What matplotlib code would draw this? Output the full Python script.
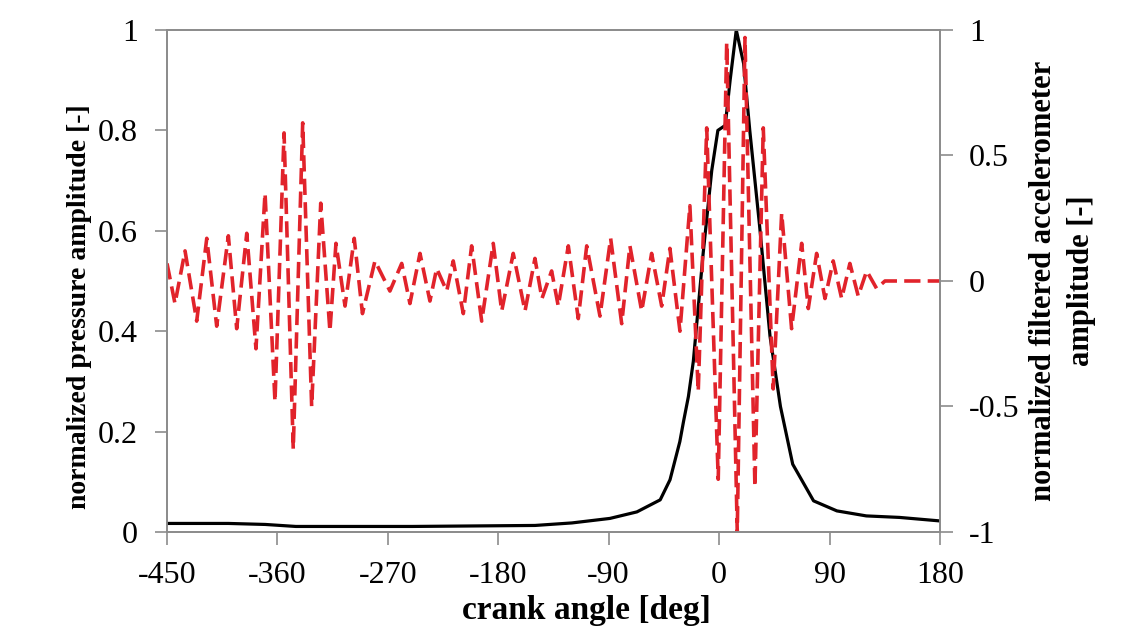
import matplotlib.pyplot as plt
from matplotlib.ticker import FixedLocator, FuncFormatter

plt.rcParams['font.family'] = ['Liberation Serif', 'DejaVu Serif']
plt.rcParams['axes.unicode_minus'] = False

# pressure trace (left axis)
p_angle = [-450, -400, -370, -345, -300, -250, -200, -150, -120, -89, -67, -48, -40,
           -32, -29, -25, -21, -13, -6, -1, 5, 9, 14, 20, 25, 33, 41.5, 50, 60, 77,
           96, 120, 147, 180]
p_val = [0.017, 0.017, 0.015, 0.011, 0.011, 0.011, 0.012, 0.013, 0.018, 0.027, 0.040,
         0.064, 0.104, 0.18, 0.22, 0.27, 0.34, 0.555, 0.72, 0.80, 0.81, 0.90, 1.0,
         0.933, 0.80, 0.61, 0.39, 0.25, 0.135, 0.062, 0.042, 0.032, 0.029, 0.022]

# filtered accelerometer (right axis), peaks and troughs
a_angle = [-450, -443.5, -435.3, -425.8, -417.6, -409.5, -400, -393.2, -385, -377.5,
           -370.1, -362, -354.6, -347.1, -339.4, -332.1, -324.7, -317.2, -312.3, -304.9,
           -297.4, -290.7, -280.5, -268.3, -258.7, -252, -243.8, -235.7, -230.2, -222,
           -216.7, -208.5, -201.7, -193.5, -184.1, -177.2, -167.8, -158.2, -150.1, -144.4,
           -136.5, -131.1, -122.9, -114.8, -107.9, -97.1, -88.4, -79.4, -72.7, -63.1,
           -55, -46.8, -40.1, -31.9, -23.8, -17, -10.1, -0.7, 6.2, 14.8,
           21.1, 29.2, 36, 44.1, 51, 59.1, 67.3, 72.7, 79.5, 86.3,
           93, 99.9, 106.6, 113.4, 120.3, 128.4, 135.2, 180]
a_val = [0.07, -0.09, 0.12, -0.16, 0.17, -0.18, 0.18, -0.19, 0.19, -0.27,
         0.35, -0.48, 0.59, -0.67, 0.63, -0.50, 0.31, -0.20, 0.15, -0.10,
         0.17, -0.13, 0.08, -0.04, 0.07, -0.09, 0.11, -0.08, 0.05, -0.04,
         0.08, -0.13, 0.14, -0.16, 0.15, -0.12, 0.11, -0.12, 0.09, -0.07,
         0.04, -0.10, 0.14, -0.15, 0.14, -0.14, 0.17, -0.17, 0.14, -0.12,
         0.11, -0.10, 0.13, -0.20, 0.30, -0.44, 0.61, -0.79, 0.95, -1.0,
         0.97, -0.82, 0.61, -0.43, 0.27, -0.19, 0.15, -0.11, 0.11, -0.07,
         0.08, -0.07, 0.07, -0.06, 0.04, -0.03, 0.0, 0.0]

x_ticks = [-450, -360, -270, -180, -90, 0, 90, 180]
left_ticks = [0, 0.2, 0.4, 0.6, 0.8, 1]
right_ticks = [-1, -0.5, 0, 0.5, 1]

fig = plt.figure(figsize=(11.4, 6.33), dpi=100)
ax = fig.add_axes([0.1465, 0.1596, 0.678, 0.793])
ax2 = ax.twinx()

ax.plot(p_angle, p_val, color='black', lw=2.3, zorder=3)
ax2.plot(a_angle, a_val, color='#e1232b', lw=2.6, dashes=(4.5, 2))

ax.set_xlim(-450, 180)
ax.set_ylim(0, 1)
ax2.set_ylim(-1, 1)

fmt = FuncFormatter(lambda v, pos: ('%g' % v))
ax.xaxis.set_major_locator(FixedLocator(x_ticks))
ax.yaxis.set_major_locator(FixedLocator(left_ticks))
ax2.yaxis.set_major_locator(FixedLocator(right_ticks))
ax.xaxis.set_major_formatter(fmt)
ax.yaxis.set_major_formatter(fmt)
ax2.yaxis.set_major_formatter(fmt)

for a in (ax, ax2):
    for s in a.spines.values():
        s.set_color('#8c8c8c')
        s.set_linewidth(1.3)
    a.tick_params(direction='out', length=9, width=1.2, color='#8c8c8c',
                  labelsize=23, pad=12)

ax.set_xlabel('crank angle [deg]', fontsize=24, fontweight='bold')
ax.xaxis.set_label_coords(0.543, -0.125)
ax.set_ylabel('normalized pressure amplitude [-]', fontsize=20, fontweight='bold')
ax.yaxis.set_label_coords(-0.097, 0.448)
ax2.set_ylabel('normalized filtered accelerometer\namplitude [-]', fontsize=22,
               fontweight='bold', linespacing=1.4)
ax2.yaxis.set_label_coords(1.115, 0.5)

fig.savefig('out.png', dpi=100)
